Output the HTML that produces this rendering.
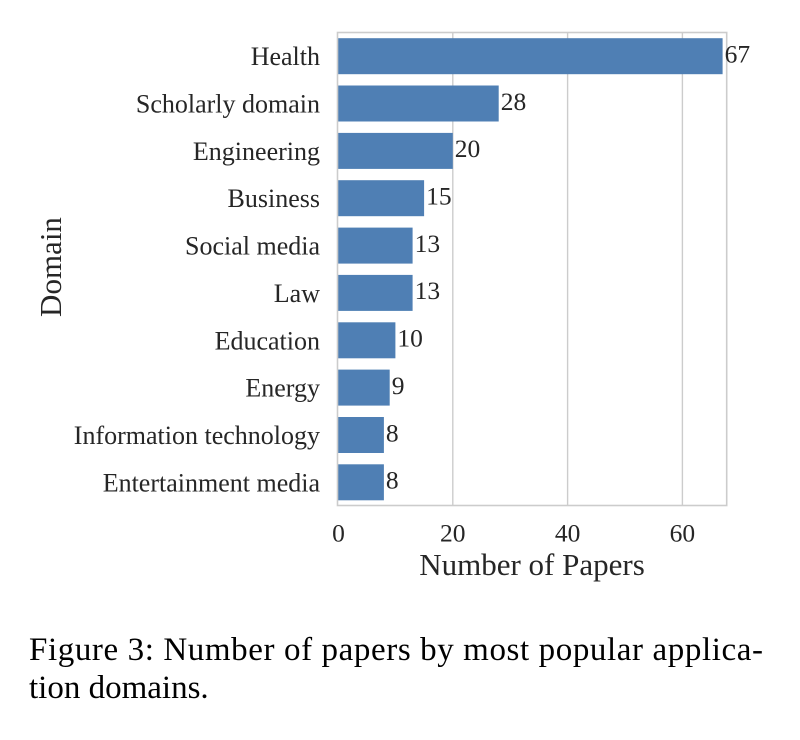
<!DOCTYPE html>
<html>
<head>
<meta charset="utf-8">
<style>
  html, body { margin:0; padding:0; background:#ffffff; }
  body { width:800px; height:740px; overflow:hidden; }
  svg { display:block; }
  text { font-family: "Liberation Serif", "Times New Roman", serif; }
</style>
</head>
<body>
<svg width="800" height="740" viewBox="0 0 800 740" xmlns="http://www.w3.org/2000/svg">
  <rect x="0" y="0" width="800" height="740" fill="#ffffff"/>

  <!-- gridlines -->
  <g stroke="#cccccc" stroke-width="1.4">
    <line x1="452.8" y1="32.5" x2="452.8" y2="505.5"/>
    <line x1="567.6" y1="32.5" x2="567.6" y2="505.5"/>
    <line x1="682.4" y1="32.5" x2="682.4" y2="505.5"/>
  </g>

  <!-- bars -->
  <g fill="#4f7fb4">
    <rect x="338" y="38.2"  width="384.6" height="36"/>
    <rect x="338" y="85.5"  width="160.7" height="36"/>
    <rect x="338" y="132.9" width="114.8" height="36"/>
    <rect x="338" y="180.2" width="86.1"  height="36"/>
    <rect x="338" y="227.6" width="74.6"  height="36"/>
    <rect x="338" y="274.9" width="74.6"  height="36"/>
    <rect x="338" y="322.3" width="57.4"  height="36"/>
    <rect x="338" y="369.6" width="51.7"  height="36"/>
    <rect x="338" y="417.0" width="45.9"  height="36"/>
    <rect x="338" y="464.3" width="45.9"  height="36"/>
  </g>

  <!-- frame -->
  <rect x="337.5" y="32.5" width="389.2" height="473" fill="none" stroke="#cccccc" stroke-width="1.6"/>

  <!-- value labels -->
  <g font-size="25.5" fill="#262626">
    <text x="724.6" y="62.5">67</text>
    <text x="500.7" y="109.8">28</text>
    <text x="454.8" y="157.2">20</text>
    <text x="426.1" y="204.5">15</text>
    <text x="414.6" y="251.9">13</text>
    <text x="414.6" y="299.2">13</text>
    <text x="397.4" y="346.6">10</text>
    <text x="391.7" y="393.9">9</text>
    <text x="385.9" y="441.3">8</text>
    <text x="385.9" y="488.6">8</text>
  </g>

  <!-- y tick labels -->
  <g font-size="26" fill="#262626" text-anchor="end">
    <text x="320" y="65.2">Health</text>
    <text x="320" y="112.5">Scholarly domain</text>
    <text x="320" y="159.9">Engineering</text>
    <text x="320" y="207.2">Business</text>
    <text x="320" y="254.6">Social media</text>
    <text x="320" y="301.9">Law</text>
    <text x="320" y="349.3">Education</text>
    <text x="320" y="396.6">Energy</text>
    <text x="320" y="444.0">Information technology</text>
    <text x="320" y="491.3">Entertainment media</text>
  </g>

  <!-- x tick labels -->
  <g font-size="25.5" fill="#262626" text-anchor="middle">
    <text x="338.5" y="541.5">0</text>
    <text x="452.8" y="541.5">20</text>
    <text x="567.6" y="541.5">40</text>
    <text x="682.4" y="541.5">60</text>
  </g>

  <!-- axis labels -->
  <text x="532" y="575" font-size="31" fill="#262626" text-anchor="middle">Number of Papers</text>
  <text transform="translate(61,267) rotate(-90)" x="0" y="0" font-size="31" fill="#262626" text-anchor="middle">Domain</text>

  <!-- caption -->
  <text x="29" y="660" font-size="33" fill="#000000" textLength="734" lengthAdjust="spacing">Figure 3:  Number of papers by most popular applica-</text>
  <text x="29" y="698" font-size="33" fill="#000000">tion domains.</text>
</svg>
</body>
</html>
